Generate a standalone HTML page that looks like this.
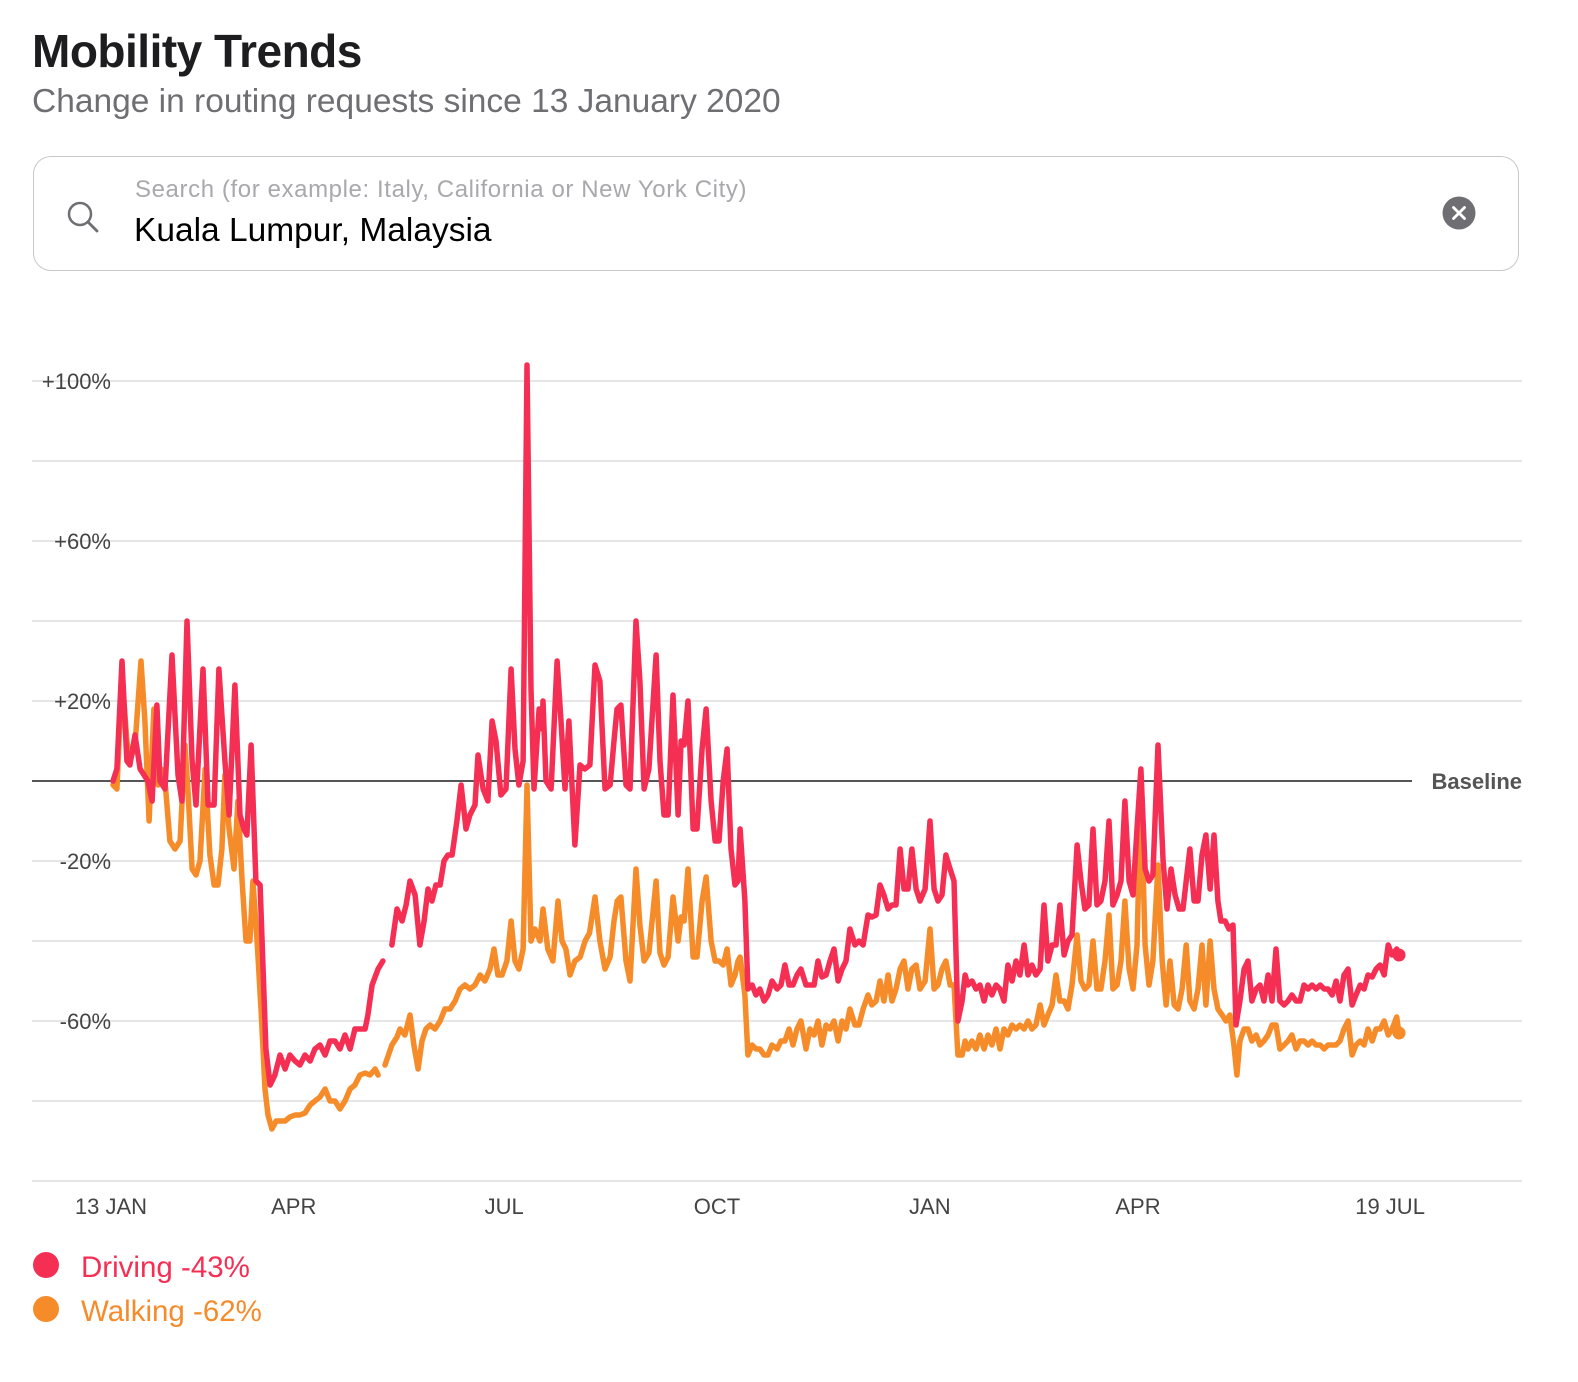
<!DOCTYPE html>
<html><head><meta charset="utf-8"><style>
body{margin:0;width:1578px;height:1382px;background:#fff;font-family:"Liberation Sans",sans-serif;position:relative;overflow:hidden}
.t{position:absolute;white-space:nowrap}
</style></head><body>
<div class="t" style="left:32px;top:24px;font-size:46px;font-weight:bold;color:#1d1d1f;letter-spacing:-0.5px">Mobility Trends</div>
<div class="t" style="left:32px;top:83px;font-size:33.5px;color:#6e6e73">Change in routing requests since 13 January 2020</div>
<div style="position:absolute;left:33px;top:156px;width:1486px;height:115px;border:1.5px solid #c8c8cc;border-radius:18px;box-sizing:border-box"></div>
<svg style="position:absolute;left:64px;top:198px" width="40" height="40"><circle cx="16" cy="16" r="11" fill="none" stroke="#6e6e73" stroke-width="2.5"/><line x1="24" y1="24" x2="33" y2="33" stroke="#6e6e73" stroke-width="2.8" stroke-linecap="round"/></svg>
<div class="t" style="left:135px;top:176px;font-size:24px;letter-spacing:0.6px;color:#a8a8ad">Search (for example: Italy, California or New York City)</div>
<div class="t" style="left:134px;top:212px;font-size:33.5px;color:#000">Kuala Lumpur, Malaysia</div>
<svg style="position:absolute;left:1442px;top:196px" width="34" height="34"><circle cx="17" cy="17" r="16.5" fill="#6e6e73"/><path d="M11.5 11.5L22.5 22.5M22.5 11.5L11.5 22.5" stroke="#fff" stroke-width="2.8" stroke-linecap="round"/></svg>
<svg id="chart" style="position:absolute;left:0;top:0" width="1578" height="1382"></svg>
<svg style="position:absolute;left:33px;top:1252px" width="28" height="28"><circle cx="13" cy="13" r="13" fill="#f52f53"/></svg>
<div class="t" style="left:81px;top:1251px;font-size:29.5px;color:#f52f53">Driving -43%</div>
<svg style="position:absolute;left:33px;top:1296px" width="28" height="28"><circle cx="13" cy="13" r="13" fill="#f68b2a"/></svg>
<div class="t" style="left:81px;top:1295px;font-size:29.5px;color:#f68b2a">Walking -62%</div>
<script>
const yTicks=[100,80,60,40,20,0,-20,-40,-60,-80,-100];
const yLabels=["+100%","","+60%","","+20%","","-20%","","-60%","",""];
const xTickDays=[0,79,170,262,354,444,553];
const xTickLabels=["13 JAN","APR","JUL","OCT","JAN","APR","19 JUL"];
const drivingDays=[0,1.7,3.9,6,7.3,9.5,11.7,15.1,16.9,19,20.3,22.5,25.5,28.1,29.8,32,34.2,35.9,38.9,41.1,43.7,45.8,48.4,50.2,52.7,54.9,56.6,57.9,59.7,61.8,63.6,66.1,67.9,70,72.2,74.4,76.5,78.7,80.8,83,85.2,87.3,89.5,91.7,93.8,96,98.1,100.3,102.5,104.6,106.8,109,110.2,112,114.6,116.7,null,120.6,122.8,125,126.7,128.4,130.6,132.7,134.5,136.2,137.9,139.6,141.4,143.1,144.8,146.6,148.7,150.5,152.6,154.3,156.5,157.8,160,162.1,163.9,165.6,167.7,169.9,172.1,173.8,175.5,177.3,179,180.7,182,184.2,185.5,185.9,187.2,189.4,192,193.7,195.4,197.1,199.7,201.9,204,206.2,208.4,210.5,212.7,214.9,216.6,217.9,219.6,221.8,223.5,226.1,227.8,229.6,231.7,234.8,236.5,238.2,240,242.1,244.3,245.6,246.9,248.6,250.8,252.5,254.7,256.4,258.6,260.3,262,263.8,265.5,267.2,268.9,270.2,271.1,273.2,274.5,276.3,278,279.7,281.5,283.2,284.9,287.1,288.8,290.5,292.3,294,295.7,297.4,299.6,301.3,303.1,304.8,306.5,308.3,310,311.7,313.5,315.2,316.9,318.6,320.8,322.5,324.3,326.4,328.1,329.9,331.6,333.3,335.1,336.8,338.5,340.3,342,343.7,345.4,347.2,348.9,351.1,353.2,355,356.7,358.4,360.1,361.9,363.6,365.3,367.1,368.4,369.6,371.4,373.1,374.8,376.6,378.3,380,381.8,383.5,385.2,386.9,388.7,390.4,392.1,393.9,395.6,397.3,399,400.8,402.5,404.2,406,407.7,409.4,411.2,412.9,414.6,416.8,418.5,420.2,421.9,423.7,425.4,427.1,428.9,430.6,432.3,434.1,435.8,437.5,439.3,441,442.7,444.4,446.2,447.9,449.6,451.8,454,455.7,457.4,459.2,460.9,462.6,464.3,465.6,467.4,469.1,470.8,472.5,474.3,476,477.7,479,480.8,482.5,484.2,485.5,487.2,489,490.7,492.4,494.2,495.9,497.6,499.4,501.1,502.8,504.5,506.3,508,509.7,511.5,513.2,514.9,516.7,518.4,520.1,521.9,523.6,525.3,527.1,528.8,530.5,532.2,534,535.7,537.4,539.2,540.9,542.6,544.4,546.1,547.8,549.6,551.3,553,555,556];
const drivingValues=[0,3,30,5,4,11.5,3,0,-5,19,0,-2,31.5,1.5,-5,40,5,-6,28,-6,-6,28,5,-8.5,24,-8.5,-12,-13.5,9,-25,-26,-67,-76,-73.5,-68.5,-72,-68.5,-70,-71,-68.5,-70,-67,-66,-68.5,-65,-65,-67,-63.5,-67,-62,-62,-62,-58.5,-51,-47,-45,null,-41,-32,-35,-31,-25,-28.5,-41,-35,-27,-30,-26,-26,-20,-18.5,-18.5,-10,-1,-12,-8.5,-6,6.5,-2,-5,15,10,-3.5,-2,28,8,-1,5,104,23,-2,18,13,20,0,-2,30,15,-2,15,-16,4,3,4,29,25,-2,-1,10,18,19,-1,-2,40,25,-2,3,31.5,5,-8.5,-8.5,21.5,-8.5,10,9,20,-12,-12,8,18,-5,-15,-15,0,8,-17,-26,-25,-12,-30,-52,-51,-53.5,-52,-55,-53.5,-50,-52,-51,-46,-51,-51,-48.5,-47,-51,-51,-51,-45,-49,-48.5,-45,-42,-50,-47,-45,-37,-41,-40,-41,-33.5,-34,-33.5,-26,-28.5,-32,-31,-31,-17,-27,-27,-17,-27,-30,-27,-10,-27,-30,-28.5,-18.5,-22,-25,-60,-55,-48.5,-51,-50,-52,-51,-55,-51,-53.5,-51,-52,-55,-46,-50,-45,-48.5,-41,-48.5,-46,-48.5,-47,-31,-45,-41,-41,-31,-43.5,-40,-38.5,-16,-25,-32,-31,-12,-31,-30,-25,-10,-31,-28.5,-25,-5,-25,-28.5,-12,3,-22,-25,-23.5,9,-20,-32,-22,-28.5,-32,-32,-23.5,-17,-30,-30,-18.5,-13.5,-27,-13.5,-30,-35,-35,-37,-36,-61,-55,-47,-45,-55,-52,-51,-55,-48.5,-55,-42,-55,-56,-55,-53.5,-55,-55,-51,-52,-51,-52,-51,-52,-52,-53.5,-50,-55,-48.5,-47,-56,-53.5,-51,-52,-48.5,-49,-47,-46,-48.5,-41,-43.5,-42,-43.5];
const walkingDays=[0,1.7,3.9,6,7.3,9.5,12.1,13.8,15.6,17.7,19.5,20.8,22.5,24.6,26.8,29,31.1,32.4,34.2,35.9,37.6,39.8,41.9,43.7,45.4,47.1,48.4,50.2,52.3,54,55.8,57.5,59.2,60.5,62.3,64,65.7,67,68.7,70.5,72.2,74.4,76.5,78.7,80.8,83,85.2,87.3,89.5,91.7,93.8,96,98.1,100.3,102.5,104.6,106.8,109,111.1,113.3,114.6,null,117.6,120.6,122.8,124.1,126.2,128.4,130.1,131.9,133.6,135.3,137.1,139.2,141.4,143.5,145.7,147.9,150,152.2,154.3,156.5,158.7,160.8,163,164.7,166.4,168.2,170.3,172.1,173.8,175.5,177.3,179,180.7,182.4,184.6,185.9,188,190.2,192.4,194.1,195.8,197.6,199.7,202,204.1,206,208.4,210.5,212.7,214.9,216.6,218,219.6,221.8,223.5,226.1,227.8,229.6,231.7,234.8,236.5,238.2,240,242.1,244.3,245.6,246.9,248.6,250.8,252.5,254.7,256.4,258.6,260.3,262,263.8,265.5,267.2,268.9,270.2,271.1,273.2,274.5,276.3,278,279.7,281.5,283.2,284.9,287.1,288.8,290.5,292.3,294,295.7,297.4,299.6,301.3,303.1,304.8,306.5,308.3,310,311.7,313.5,315.2,316.9,318.6,320.8,322.5,324.3,326.4,328.1,329.9,331.6,333.3,335.1,336.8,338.5,340.3,342,343.7,345.4,347.2,348.9,351.1,353.2,355,356.7,358.4,360.1,361.9,363.6,365.3,367.1,368.4,369.6,371.4,373.1,374.8,376.6,378.3,380,381.8,383.5,385.2,386.9,388.7,390.4,392.1,393.9,395.6,397.3,399,400.8,402.5,404.2,406,407.7,409.4,411.2,412.9,414.6,416.8,418.5,420.2,421.9,423.7,425.4,427.1,428.9,430.6,432.3,434.1,435.8,437.5,439.3,441,442.7,444.4,446.2,447.9,449.6,451.8,453.6,455.3,457,458.8,460.5,462.2,464,465.6,467.4,469.1,470.8,472.5,474.3,476,477.7,479.5,481.2,482.9,484.6,485.9,487.2,489,490.7,492.4,494.2,495.9,497.6,499.4,501.1,502.8,504.5,506.3,508,509.7,511.5,513.2,514.9,516.7,518.4,520.1,521.9,523.6,525.3,527.1,528.8,530.5,532.2,534,535.7,537.4,539.2,540.9,542.6,544.4,546.1,547.8,549.6,551.3,553,555,556];
const walkingValues=[-1,-2,26.5,10,5,9,30,15,-10,18,-1,3,0,-15,-17,-15,9,-2,-22,-23.5,-20,3,-18.5,-26,-26,-17,1.5,-12,-22,-5,-25,-40,-40,-25,-40,-57,-77,-83.5,-87,-85,-85,-85,-84,-83.5,-83.5,-83,-81,-80,-79,-77,-80,-80,-82,-80,-77,-76,-73.5,-73,-73.5,-72,-73.5,null,-71,-66,-64,-62,-63.5,-58.5,-66,-72,-65,-62,-61,-62,-60,-57,-57,-55,-52,-51,-52,-51,-48.5,-50,-47,-42,-48.5,-48.5,-45,-35,-45,-47,-42,-1,-40,-37,-40,-32,-42,-45,-30,-40,-42,-48.5,-45,-44,-40,-38,-29,-40,-47,-44,-35,-30,-29,-45,-50,-22,-36,-45,-43,-25,-43,-46,-44,-29,-40,-34,-35,-22,-44,-44,-30,-24,-40,-45,-45,-46,-42,-51,-48.5,-45,-44,-53.5,-68.5,-66,-67,-67,-68.5,-68.5,-66,-67,-65,-65,-62,-66,-62,-60,-67,-62,-63.5,-60,-66,-61,-62,-60,-65,-60,-62,-57,-61,-61,-57,-53.5,-56,-55,-50,-55,-48.5,-55,-52,-47,-45,-52,-47,-46,-52,-50,-37,-52,-51,-47,-45,-51,-51,-68.5,-68.5,-65,-67,-65,-67,-63.5,-67,-63.5,-66,-62,-67,-62,-63.5,-61,-62,-61,-62,-60,-62,-61,-56,-61,-58.5,-56,-48.5,-55,-55,-57,-51,-38.5,-50,-52,-51,-40,-52,-52,-45,-33.5,-52,-51,-45,-30,-47,-52,-41,-2,-41,-51,-45,-21,-45,-56,-45,-56,-57,-52,-41,-55,-57,-52,-41,-56,-40,-52,-57,-58.5,-60,-58.5,-66,-73.5,-65,-62,-62,-65,-63.5,-66,-65,-63.5,-61,-61,-67,-66,-65,-63.5,-67,-65,-65,-66,-65,-66,-66,-67,-66,-66,-66,-65,-62,-60,-68.5,-66,-65,-66,-62,-65,-62,-62,-60,-63.5,-62,-59,-63];

const NS='http://www.w3.org/2000/svg';
const svg=document.getElementById('chart');
const X0=113,PXD=2.313,Y0=781,PXV=4;
function xs(d){return X0+d*PXD;}
function ys(v){return Y0-v*PXV;}
function mk(t,a){const e=document.createElementNS(NS,t);for(const k in a)e.setAttribute(k,a[k]);svg.appendChild(e);return e;}
yTicks.forEach((v,i)=>{
  if(v!==0){const l=mk('line',{x1:32,x2:1522,y1:ys(v),y2:ys(v),stroke:'#e6e6e6','stroke-width':2});
  
  }
  if(yLabels[i]){const t=mk('text',{x:111,y:ys(v)+8,'text-anchor':'end','font-size':22,fill:'#444','font-family':'Liberation Sans, sans-serif'});t.textContent=yLabels[i];
  
  }
});
const bl=mk('line',{x1:32,x2:1412,y1:ys(0),y2:ys(0),stroke:'#555','stroke-width':2});


const blt=mk('text',{x:1522,y:ys(0)+8,'text-anchor':'end','font-size':22,fill:'#555','font-weight':'bold','font-family':'Liberation Sans, sans-serif'});blt.textContent='Baseline';


xTickDays.forEach((d,i)=>{const t=mk('text',{x:xs(d)-2,y:1214,'text-anchor':'middle','font-size':22,fill:'#444','font-family':'Liberation Sans, sans-serif'});t.textContent=xTickLabels[i];

});
function series(days,vals,color,name){
  let d='',pen=false;
  for(let i=0;i<days.length;i++){
    if(days[i]===null||vals[i]===null){pen=false;continue;}
    d+=(pen?'L':'M')+xs(days[i]).toFixed(1)+' '+ys(vals[i]).toFixed(1);pen=true;
  }
  const p=mk('path',{d:d,fill:'none',stroke:color,'stroke-width':5.5,'stroke-linejoin':'round','stroke-linecap':'round'});
  
  
  const n=days.length-1;
  const c=mk('circle',{cx:xs(days[n]),cy:ys(vals[n]),r:6.5,fill:color});
  
  
}
series(walkingDays,walkingValues,'#f68b2a','walking-line');
series(drivingDays,drivingValues,'#f52f53','driving-line');
</script>
</body></html>
